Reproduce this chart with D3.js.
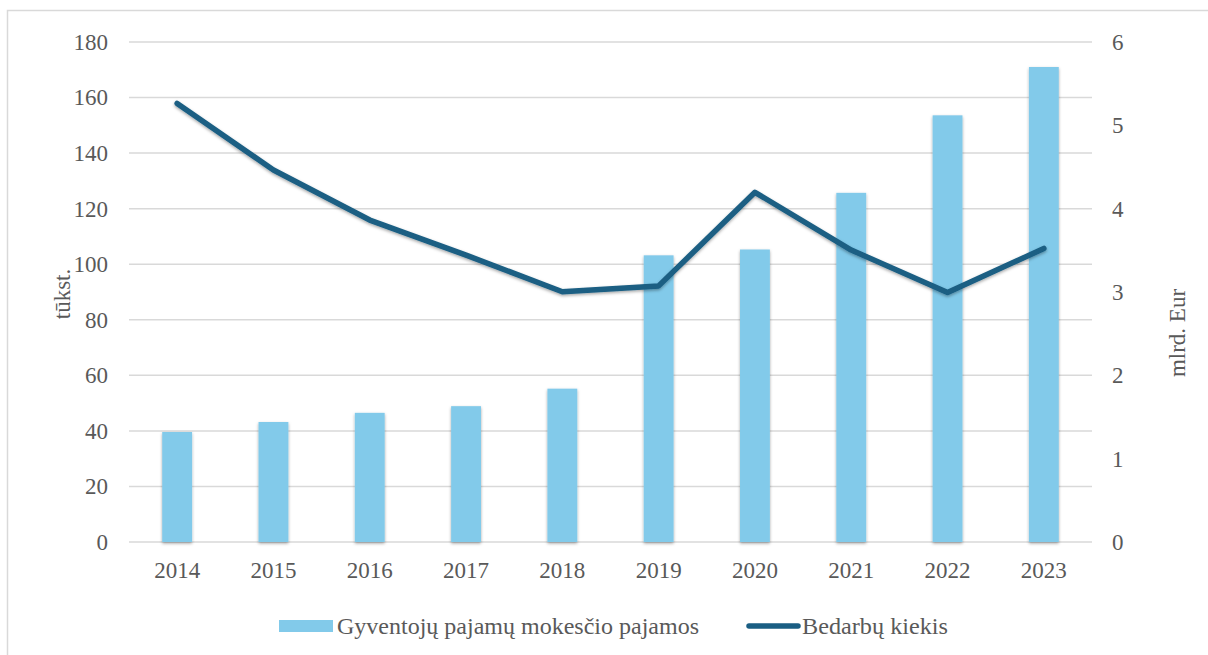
<!DOCTYPE html>
<html>
<head>
<meta charset="utf-8">
<script src="https://d3js.org/d3.v7.min.js"></script>
<style>
  body { margin: 0; background: #fff; }
</style>
</head>
<body>
<div id="chart"></div>
<script>
// data
var years = ["2014", "2015", "2016", "2017", "2018", "2019", "2020", "2021", "2022", "2023"];
var taxRevenue = [1.32, 1.44, 1.55, 1.63, 1.84, 3.44, 3.51, 4.19, 5.12, 5.70];   // mlrd. Eur
var unemployed = [157.9, 133.9, 115.9, 103.3, 90.1, 92.2, 125.9, 105.1, 89.8, 105.7]; // tūkst.
var leftTicks = [0, 20, 40, 60, 80, 100, 120, 140, 160, 180];
var rightTicks = [0, 1, 2, 3, 4, 5, 6];
var barName = "Gyventojų pajamų mokesčio pajamos";
var lineName = "Bedarbų kiekis";

var FONT = "'Liberation Serif', 'Times New Roman', 'DejaVu Serif', serif";
var FS = "23px";
var W = 1208, H = 655;
var margin = { top: 42, right: 116, bottom: 113, left: 129 };
var width = W - margin.left - margin.right,
    height = H - margin.top - margin.bottom;

var svg = d3.select("#chart").append("svg")
  .attr("width", W).attr("height", H);

var defs = svg.append("defs");
var f = defs.append("filter").attr("id", "shadow")
  .attr("x", "-20%").attr("y", "-20%").attr("width", "140%").attr("height", "140%");
f.append("feDropShadow").attr("dx", 0).attr("dy", 1.5).attr("stdDeviation", 1.6)
  .attr("flood-color", "#000").attr("flood-opacity", 0.35);

// outer chart border
svg.append("rect")
  .attr("x", 7.5).attr("y", 10.5).attr("width", W).attr("height", H)
  .attr("fill", "none").attr("stroke", "#d9d9d9").attr("stroke-width", 1.5);

var g = svg.append("g")
  .attr("transform", "translate(" + margin.left + "," + margin.top + ")");

var x = d3.scaleBand().domain(years).range([0, width]).paddingInner(0.69).paddingOuter(0.345);
var yL = d3.scaleLinear().domain([0, 180]).range([height, 0]);
var yR = d3.scaleLinear().domain([0, 6]).range([height, 0]);

// gridlines
g.append("g").selectAll("line")
  .data(leftTicks).enter().append("line")
  .attr("x1", 0).attr("x2", width)
  .attr("y1", function (d) { return yL(d) }).attr("y2", function (d) { return yL(d) })
  .attr("stroke", "#d9d9d9").attr("stroke-width", 1.5);

function styleAxis(ax) {
  ax.select(".domain").remove();
  ax.attr("font-family", null).attr("font-size", null);
  ax.selectAll("text")
    .style("font-family", FONT)
    .style("font-size", FS)
    .attr("fill", "#595959");
}

// left axis
var axL = g.append("g")
  .call(d3.axisLeft(yL).tickValues(leftTicks).tickSize(0).tickPadding(21));
styleAxis(axL);

// right axis
var axR = g.append("g").attr("transform", "translate(" + width + ",0)")
  .call(d3.axisRight(yR).tickValues(rightTicks).tickFormat(d3.format("d")).tickSize(0).tickPadding(20));
styleAxis(axR);

// x axis
var axX = g.append("g").attr("transform", "translate(0," + height + ")")
  .call(d3.axisBottom(x).tickSize(0).tickPadding(20));
styleAxis(axX);

// bars
g.append("g").selectAll("rect")
  .data(years).enter().append("rect")
  .attr("x", function (d) { return x(d) })
  .attr("width", x.bandwidth())
  .attr("y", function (d, i) { return yR(taxRevenue[i]) })
  .attr("height", function (d, i) { return height - yR(taxRevenue[i]) })
  .attr("fill", "#82caea")
  .attr("filter", "url(#shadow)");

// line
var line = d3.line()
  .x(function (d, i) { return x(years[i]) + x.bandwidth() / 2 })
  .y(function (d) { return yL(d) });
g.append("path")
  .datum(unemployed)
  .attr("d", line)
  .attr("fill", "none")
  .attr("stroke", "#1a5e83")
  .attr("stroke-width", 5.5)
  .attr("stroke-linejoin", "round")
  .attr("stroke-linecap", "round")
  .attr("filter", "url(#shadow)");

// axis titles
svg.append("text")
  .attr("transform", "translate(70,294) rotate(-90)")
  .attr("text-anchor", "middle")
  .style("font-family", FONT).style("font-size", FS).attr("fill", "#595959")
  .text("tūkst.");
svg.append("text")
  .attr("transform", "translate(1185,333) rotate(-90)")
  .attr("text-anchor", "middle")
  .style("font-family", FONT).style("font-size", FS).attr("fill", "#595959")
  .text("mlrd. Eur");

// legend
var leg = svg.append("g").attr("transform", "translate(0,626)");
leg.append("rect").attr("x", 279).attr("y", -6).attr("width", 54).attr("height", 12).attr("fill", "#82caea");
leg.append("text").attr("x", 337).attr("y", 8)
  .attr("textLength", 362).attr("lengthAdjust", "spacingAndGlyphs")
  .style("font-family", FONT).style("font-size", FS).attr("fill", "#595959").text(barName);
leg.append("line").attr("x1", 749).attr("x2", 798).attr("y1", 0).attr("y2", 0)
  .attr("stroke", "#1a5e83").attr("stroke-width", 5.5).attr("stroke-linecap", "round");
leg.append("text").attr("x", 802).attr("y", 8)
  .attr("textLength", 146).attr("lengthAdjust", "spacingAndGlyphs")
  .style("font-family", FONT).style("font-size", FS).attr("fill", "#595959").text(lineName);
</script>
</body>
</html>
